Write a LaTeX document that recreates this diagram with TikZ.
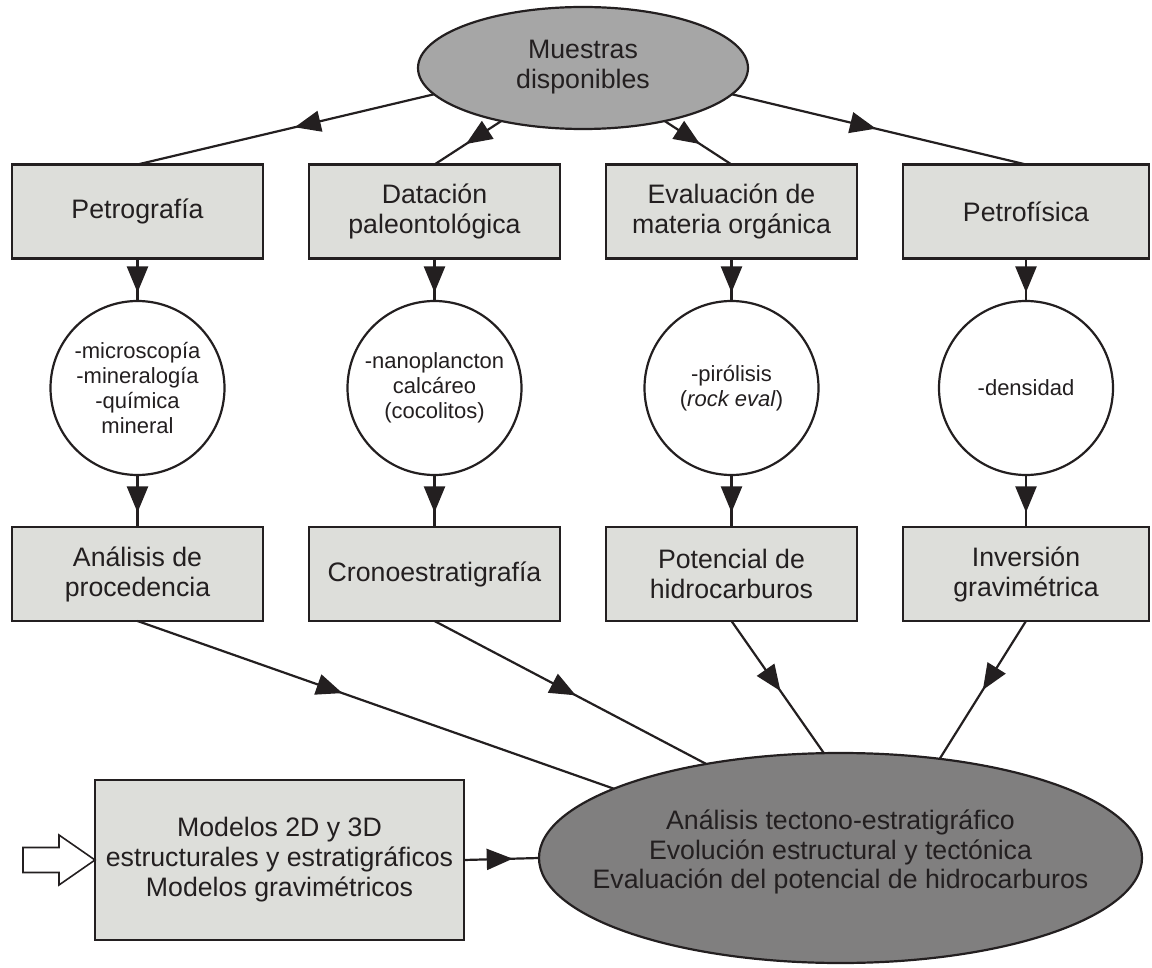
\documentclass[tikz,border=0pt]{standalone}
\usepackage{fontspec}
\setmainfont{Liberation Sans}
\usetikzlibrary{shapes.geometric,arrows.meta,decorations.markings}
\definecolor{ink}{RGB}{35,31,32}
\definecolor{boxfill}{RGB}{221,222,218}
\definecolor{topfill}{RGB}{166,166,166}
\definecolor{bigfill}{RGB}{128,127,127}
\tikzset{
  arr/.style={postaction={decorate},decoration={markings,mark=at position #1 with {\arrow{Triangle[length=26pt,width=21pt]}}}},
  conn/.style={draw=ink,line width=2.2pt},
  boxnode/.style={draw=ink,line width=2.2pt,fill=boxfill,rectangle,minimum width=251pt,minimum height=94pt,inner sep=0pt,outer sep=0pt,align=center,text=ink,font=\fontsize{26.7}{30}\selectfont},
  circnode/.style={draw=ink,line width=2.2pt,fill=white,circle,minimum size=174pt,inner sep=0pt,outer sep=0pt,align=center,text=ink,font=\fontsize{22}{25}\selectfont},
  ellnode/.style={draw=ink,line width=2.2pt,ellipse,inner sep=0pt,outer sep=0pt},
  txt/.style={align=center,text=ink,inner sep=0pt,font=\fontsize{26.7}{30}\selectfont},
}
\begin{document}
\begin{tikzpicture}[x=1pt,y=-1pt]
\useasboundingbox (0,0) rectangle (1152,968);
% top ellipse
\node[ellnode,fill=topfill,minimum width=330pt,minimum height=122pt] (top) at (583,68) {};
\node[txt] (toptxt) at (583,67) {Muestras\\disponibles};
% row 1
\node[boxnode] (b1) at (137.5,211.5) {Petrografía};
\node[boxnode] (b2) at (434.5,211.5) {Datación\\paleontológica};
\node[boxnode] (b3) at (731.5,211.5) {Evaluación de\\materia orgánica};
\node[boxnode,minimum width=246pt] (b4) at (1026,211.5) {Petrofísica};
% circles
\node[circnode] (c1) at (137.5,388) {-microscopía\\-mineralogía\\-química\\mineral};
\node[circnode] (c2) at (434.5,388) {-nanoplancton\\calcáreo\\(cocolitos)};
\node[circnode] (c3) at (731.5,388) {-pirólisis\\(\textit{rock eval})};
\node[circnode] (c4) at (1026,388) {-densidad};
% row 2
\node[boxnode] (d1) at (137.5,574) {Análisis de\\procedencia};
\node[boxnode] (d2) at (434.5,574) {Cronoestratigrafía};
\node[boxnode] (d3) at (731.5,574) {Potencial de\\hidrocarburos};
\node[boxnode,minimum width=246pt] (d4) at (1026,574) {Inversión\\gravimétrica};
% big ellipse
\node[ellnode,fill=bigfill,minimum width=603pt,minimum height=210pt] (big) at (840.5,858) {};
\node[txt,font=\fontsize{26.7}{29.5}\selectfont] (bigtxt) at (840.5,852) {Análisis tectono-estratigráfico\\Evolución estructural y tectónica\\Evaluación del potencial de hidrocarburos};
% model box
\node[boxnode,minimum width=369pt,minimum height=160pt] (model) at (279.5,860) {Modelos 2D y 3D\\estructurales y estratigráficos\\Modelos gravimétricos};
% hollow input arrow
\draw[draw=ink,line width=1.6pt,fill=white,line join=miter]
  (23,847.5) -- (59,847.5) -- (59,835) -- (model.west) -- (59,885) -- (59,872.5) -- (23,872.5) -- cycle;
% connectors top
\draw[conn,arr=0.47] (top.190) -- (b1.north);
\draw[conn,arr=0.53] (top.213) -- (b2.north);
\draw[conn,arr=0.53] (top.327) -- (b3.north);
\draw[conn,arr=0.49] (top.350) -- (b4.north);
% vertical
\foreach \i in {1,2,3,4}{
  \draw[conn,arr=0.80] (b\i.south) -- (c\i.north);
  \draw[conn,arr=0.72] (c\i.south) -- (d\i.north);
}
% bottom
\draw[conn,arr=0.43] (d1.south) -- (big.163);
\draw[conn,arr=0.52] (d2.south) -- (big.145);
\draw[conn,arr=0.53] (d3.south) -- (big.99);
\draw[conn,arr=0.5] (d4.south) -- (big.45);
\draw[conn,arr=0.65] (model.east) -- (big.west);
\end{tikzpicture}
\end{document}
